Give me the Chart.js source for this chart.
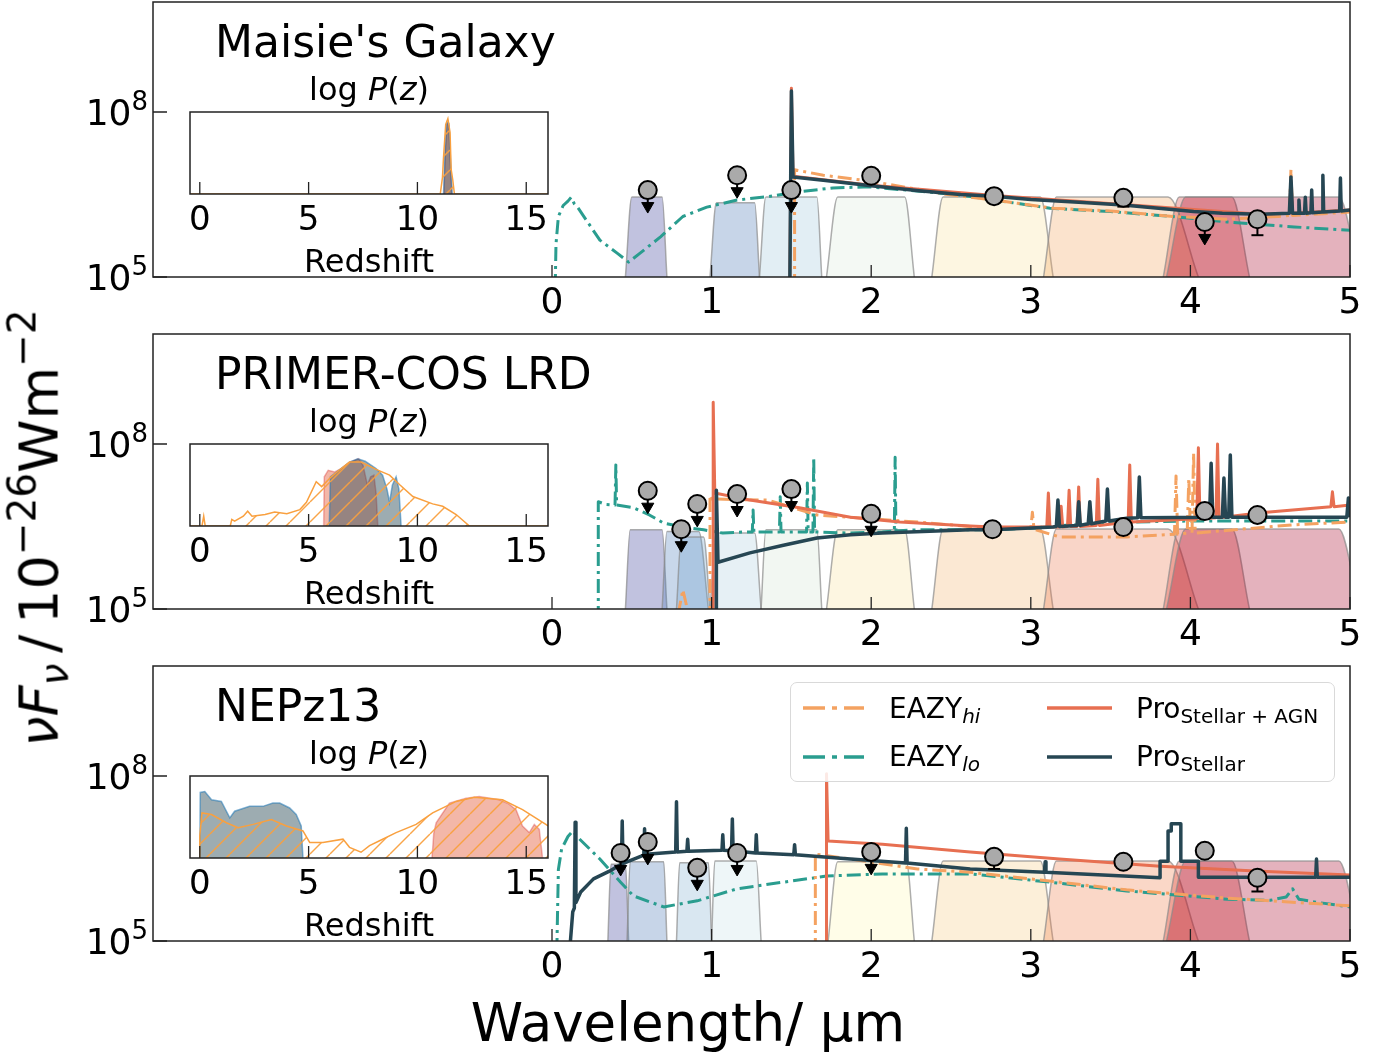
<!DOCTYPE html>
<html>
<head>
<meta charset="utf-8">
<script src="https://cdn.jsdelivr.net/npm/chart.js@4.4.1/dist/chart.umd.min.js"></script>
<style>
  body { margin: 0; background: #fff; }
  #page { position: relative; width: 1390px; height: 1055px; overflow: hidden; font-family: 'DejaVu Sans', sans-serif; color: #000; }
  canvas { position: absolute; }
  .t { position: absolute; white-space: nowrap; line-height: 1; }
  .title { font-size: 44px; left: 215px; }
  .ptitle { font-size: 32px; left: 269px; width: 200px; text-align: center; }
  .ytick { font-size: 36px; left: 0; width: 148px; text-align: right; }
  .ytick span { font-size: 26px; position: relative; top: -15px; }
  .leg { font-size: 28px; }
  .leg span { font-size: 20px; position: relative; top: 5px; }
  #legbox { position: absolute; left: 790px; top: 682px; width: 545px; height: 100px; border: 1.5px solid #d9d9d9; border-radius: 7px; background: rgba(255,255,255,0.85); box-sizing: border-box; }
</style>
</head>
<body>
<div id="page">
  <canvas id="main1" width="1390" height="327" style="left:0;top:0"></canvas>
  <canvas id="main2" width="1390" height="327" style="left:0;top:332px"></canvas>
  <canvas id="main3" width="1390" height="327" style="left:0;top:664px"></canvas>
  <canvas id="inset1" width="400" height="134" style="left:170px;top:110px"></canvas>
  <canvas id="inset2" width="400" height="134" style="left:170px;top:442px"></canvas>
  <canvas id="inset3" width="400" height="134" style="left:170px;top:774px"></canvas>

  <div class="t title" style="top:20px">Maisie's Galaxy</div>
  <div class="t title" style="top:352px">PRIMER-COS LRD</div>
  <div class="t title" style="top:684px">NEPz13</div>

  <div class="t ptitle" style="top:73px">log <i>P</i>(<i>z</i>)</div>
  <div class="t ptitle" style="top:405px">log <i>P</i>(<i>z</i>)</div>
  <div class="t ptitle" style="top:737px">log <i>P</i>(<i>z</i>)</div>
  <div class="t ptitle" style="top:245px">Redshift</div>
  <div class="t ptitle" style="top:577px">Redshift</div>
  <div class="t ptitle" style="top:909px">Redshift</div>

  <div class="t ytick" style="top:95px">10<span>8</span></div>
  <div class="t ytick" style="top:260px">10<span>5</span></div>
  <div class="t ytick" style="top:427px">10<span>8</span></div>
  <div class="t ytick" style="top:592px">10<span>5</span></div>
  <div class="t ytick" style="top:759px">10<span>8</span></div>
  <div class="t ytick" style="top:924px">10<span>5</span></div>

  <div class="t" style="font-size:54px;line-height:54px;left:42px;top:528px;transform:translate(-50%,-50%) rotate(-90deg);">
    <i>νF</i><i style="font-size:39px;position:relative;top:10px">ν</i>&thinsp;/&thinsp;10<span style="font-size:39px;position:relative;top:-22px">−26</span>Wm<span style="font-size:39px;position:relative;top:-22px">−2</span>
  </div>
  <div class="t" style="font-size:53px;left:438px;width:500px;text-align:center;top:996px">Wavelength/ µm</div>

  <div id="legbox"></div>
  <svg style="position:absolute;left:0;top:0" width="1390" height="1055">
    <line x1="803" y1="708" x2="864" y2="708" stroke="#f4a261" stroke-width="3.5" stroke-dasharray="22 7 5 7"/>
    <line x1="803" y1="757" x2="864" y2="757" stroke="#2a9d8f" stroke-width="3.5" stroke-dasharray="22 7 5 7"/>
    <line x1="1047" y1="708" x2="1112" y2="708" stroke="#e76f51" stroke-width="3.5"/>
    <line x1="1047" y1="757" x2="1112" y2="757" stroke="#264653" stroke-width="3.5"/>
  </svg>
  <div class="t leg" style="left:889px;top:695px">EAZY<span><i>hi</i></span></div>
  <div class="t leg" style="left:889px;top:743px">EAZY<span><i>lo</i></span></div>
  <div class="t leg" style="left:1136px;top:695px">Pro<span>Stellar + AGN</span></div>
  <div class="t leg" style="left:1136px;top:743px">Pro<span>Stellar</span></div>
</div>

<script>
// ---- axes ----
var XTICKS = [0, 1, 2, 3, 4, 5];
var YTICKS = [1e5, 1e8];
var ZTICKS = [0, 5, 10, 15];

// ---- spectra: [wavelength (um), log10 flux] ----
var EAZYLO_1 = [[0.02,4.8],[0.025,5.6],[0.04,6.1],[0.07,6.3],[0.1,6.38],[0.12,6.45],[0.14,6.33],[0.16,6.27],[0.3,5.67],[0.41,5.43],[0.48,5.27],[0.55,5.43],[0.68,5.73],[0.82,6.1],[0.97,6.27],[1.16,6.4],[1.35,6.46],[1.55,6.55],[1.76,6.62],[1.99,6.64],[2.56,6.49],[2.77,6.4],[3.12,6.25],[3.5,6.19],[3.89,6.1],[4.23,6.0],[4.65,5.91],[5.0,5.85]];
var EAZYHI_1 = [[1.52,4.8],[1.52,6.95],[1.7,6.85],[2.0,6.74],[2.48,6.5],[2.77,6.4],[3.14,6.25],[3.5,6.2],[3.9,6.1],[4.23,6.05],[4.55,6.1],[4.62,6.12],[4.63,6.95],[4.64,6.12],[5.0,6.18]];
var PROAGN_1 = [[1.49,4.8],[1.5,8.43],[1.51,6.83],[2.0,6.67],[2.77,6.48],[3.58,6.32],[4.44,6.14],[4.62,6.16],[4.63,6.75],[4.64,6.16],[5.0,6.22]];
var PROSTEL_1 = [[1.49,4.8],[1.5,8.38],[1.51,6.82],[1.7,6.76],[2.0,6.66],[2.3,6.57],[2.56,6.5],[2.77,6.47],[3.0,6.41],[3.3,6.36],[3.58,6.31],[3.8,6.25],[4.02,6.19],[4.2,6.16],[4.44,6.14],[4.62,6.16],[4.63,6.82],[4.64,6.16],[4.675,6.16],[4.68,6.4],[4.685,6.16],[4.715,6.16],[4.72,6.45],[4.725,6.16],[4.755,6.17],[4.76,6.58],[4.765,6.17],[4.825,6.18],[4.83,6.85],[4.835,6.18],[4.935,6.2],[4.94,6.8],[4.945,6.2],[5.0,6.22]];

var EAZYLO_2 = [[0.29,4.8],[0.29,6.95],[0.34,6.9],[0.395,6.89],[0.4,7.62],[0.405,6.89],[0.51,6.84],[0.61,6.71],[0.7,6.56],[0.82,6.49],[0.95,6.44],[1.07,6.38],[1.2,6.4],[1.255,6.4],[1.26,6.8],[1.265,6.4],[1.425,6.4],[1.43,7.04],[1.435,6.4],[1.595,6.4],[1.6,7.29],[1.605,6.4],[1.635,6.4],[1.64,7.76],[1.645,6.4],[1.87,6.38],[2.07,6.4],[2.145,6.42],[2.15,7.76],[2.155,6.42],[2.29,6.44],[2.62,6.44],[2.76,6.44],[3.0,6.47],[3.2,6.52],[3.6,6.58],[4.0,6.6],[5.0,6.6]];
var EAZYHI_2_LOW = [[0.79,4.9],[0.8,5.05],[0.82,5.35],[0.84,5.1],[0.85,4.9]];
var EAZYHI_2 = [[0.99,4.8],[0.99,7.07],[1.0,7.0],[1.35,6.98],[1.66,6.71],[2.0,6.64],[2.29,6.58],[2.62,6.5],[2.76,6.47],[3.0,6.47],[3.01,6.76],[3.02,6.45],[3.18,6.31],[3.6,6.31],[3.9,6.36],[3.91,7.42],[3.92,6.36],[3.98,6.38],[3.99,7.38],[4.0,6.38],[4.01,6.38],[4.02,7.84],[4.03,6.38],[4.64,6.53],[5.0,6.58]];
var PROAGN_2 = [[1.01,4.8],[1.01,8.76],[1.02,7.11],[1.24,6.98],[1.55,6.84],[1.87,6.67],[2.18,6.58],[2.62,6.51],[2.76,6.49],[3.1,6.49],[3.11,7.11],[3.12,6.49],[3.18,6.49],[3.19,6.87],[3.2,6.49],[3.23,6.5],[3.24,7.16],[3.25,6.5],[3.29,6.5],[3.3,7.22],[3.31,6.5],[3.41,6.52],[3.42,7.36],[3.43,6.52],[3.61,6.58],[3.62,7.62],[3.63,6.58],[4.04,6.64],[4.05,7.93],[4.06,6.64],[4.16,6.66],[4.17,8.0],[4.18,6.66],[4.44,6.75],[4.88,6.86],[4.89,7.13],[4.9,6.86],[5.0,6.89]];
var PROSTEL_2 = [[1.03,4.8],[1.03,7.16],[1.04,5.85],[1.24,6.02],[1.45,6.16],[1.66,6.29],[1.87,6.35],[2.07,6.38],[2.62,6.44],[2.76,6.44],[3.14,6.49],[3.16,6.5],[3.17,6.98],[3.18,6.5],[3.29,6.52],[3.3,6.95],[3.31,6.52],[3.36,6.55],[3.37,6.95],[3.38,6.55],[3.47,6.6],[3.48,7.18],[3.49,6.6],[3.6,6.65],[3.67,6.66],[3.68,7.4],[3.69,6.66],[4.12,6.67],[4.13,7.65],[4.14,6.67],[4.2,6.67],[4.21,7.38],[4.22,6.67],[4.24,6.67],[4.25,7.8],[4.26,6.67],[4.98,6.67],[4.99,7.02],[5.0,6.67]];

var EAZYLO_3 = [[0.03,4.8],[0.04,6.3],[0.06,6.67],[0.1,6.9],[0.13,7.0],[0.16,6.89],[0.3,6.49],[0.43,6.07],[0.51,5.82],[0.7,5.62],[0.91,5.73],[1.16,5.95],[1.45,6.07],[1.72,6.18],[2.07,6.22],[2.62,6.22],[3.12,6.07],[3.6,5.91],[4.23,5.76],[4.5,5.74],[4.6,5.8],[4.64,5.95],[4.68,5.76],[4.8,5.7],[5.0,5.62]];
var EAZYHI_3 = [[1.65,4.8],[1.65,6.58],[1.87,6.49],[2.29,6.31],[2.62,6.25],[3.12,6.09],[3.6,5.93],[4.23,5.78],[5.0,5.64]];
var PROAGN_3 = [[1.72,4.8],[1.72,8.04],[1.73,6.82],[2.07,6.76],[2.62,6.62],[3.18,6.49],[3.81,6.36],[4.44,6.27],[5.0,6.2]];
var PROSTEL_3 = [[0.11,4.8],[0.13,5.53],[0.14,5.6],[0.145,7.16],[0.15,5.7],[0.18,5.89],[0.26,6.13],[0.36,6.27],[0.435,6.4],[0.44,7.18],[0.445,6.41],[0.47,6.44],[0.575,6.56],[0.58,7.04],[0.585,6.56],[0.61,6.58],[0.775,6.62],[0.78,7.53],[0.785,6.62],[0.845,6.63],[0.85,6.85],[0.855,6.63],[1.065,6.65],[1.07,6.93],[1.075,6.65],[1.125,6.64],[1.13,7.22],[1.135,6.64],[1.275,6.6],[1.28,6.93],[1.285,6.6],[1.515,6.57],[1.52,6.75],[1.525,6.57],[1.87,6.49],[2.215,6.42],[2.22,7.05],[2.225,6.42],[2.62,6.31],[3.085,6.25],[3.09,6.44],[3.095,6.25],[3.81,6.15],[3.81,6.45],[3.86,6.45],[3.86,7.0],[3.88,7.0],[3.88,7.13],[3.94,7.13],[3.94,6.45],[4.05,6.45],[4.05,6.16],[4.785,6.16],[4.79,6.49],[4.795,6.16],[5.0,6.16]];

// ---- photometry ----
var PHOT_X_1 = [0.60, 1.16, 1.50, 2.0, 2.77, 3.58, 4.09, 4.42];
var PHOT_Y_1 = [6.58, 6.85, 6.58, 6.84, 6.47, 6.44, 6.0, 6.05];
var PHOT_UL_1 = [1, 1, 1, 0, 0, 0, 1, 0];
var PHOT_ERR_1 = [0, 0, 0, 0, 0, 0.16, 0, 0.29];

var PHOT_X_2 = [0.60, 0.81, 0.91, 1.16, 1.50, 2.0, 2.76, 3.58, 4.09, 4.42];
var PHOT_Y_2 = [7.15, 6.45, 6.91, 7.09, 7.18, 6.73, 6.45, 6.49, 6.78, 6.71];
var PHOT_UL_2 = [1, 1, 1, 1, 1, 1, 0, 0, 0, 0];
var PHOT_ERR_2 = [0, 0, 0, 0, 0, 0, 0, 0, 0, 0];

var PHOT_X_3 = [0.43, 0.60, 0.91, 1.16, 2.0, 2.77, 3.58, 4.09, 4.42];
var PHOT_Y_3 = [6.6, 6.8, 6.33, 6.6, 6.62, 6.53, 6.44, 6.64, 6.15];
var PHOT_UL_3 = [1, 1, 1, 1, 1, 0, 0, 0, 0];
var PHOT_ERR_3 = [0, 0, 0, 0, 0, 0.22, 0, 0, 0.25];

// ---- filter curves: [foot lo, top lo, top hi, foot hi] in um, relative peak ----
var FILT_1 = [[0.46,0.50,0.69,0.72],[0.99,1.03,1.27,1.30],[1.30,1.34,1.66,1.69],[1.72,1.79,2.21,2.27],[2.38,2.45,3.06,3.14],[3.08,3.16,3.86,4.05],[3.83,3.93,4.26,4.37],[3.85,3.97,4.93,5.06]];
var FILT_TOP_1 = [1.0, 0.93, 1.0, 1.0, 1.0, 1.0, 1.0, 1.0];
var FILT_COL_1 = ['#313695','#4575b4','#a0c6db','#daeada','#f8e19b','#f2a258','#d73027','#a50026'];

var FILT_2 = [[0.46,0.49,0.69,0.72],[0.69,0.72,0.92,0.98],[0.78,0.81,0.95,0.99],[0.99,1.03,1.27,1.31],[1.31,1.34,1.66,1.69],[1.72,1.79,2.21,2.27],[2.38,2.45,3.06,3.14],[3.08,3.16,3.86,4.05],[3.83,3.93,4.26,4.37],[3.85,3.97,4.93,5.06]];
var FILT_TOP_2 = [0.99, 0.97, 0.9, 0.95, 0.99, 0.99, 1.0, 1.0, 1.0, 1.0];
var FILT_COL_2 = ['#313695','#487ab9','#6a9fcb','#accdde','#d4e4d4','#f8e29a','#f2b26c','#eb7348','#d73027','#a50026'];

var FILT_3 = [[0.35,0.37,0.46,0.48],[0.47,0.49,0.70,0.72],[0.78,0.80,0.98,1.0],[1.0,1.02,1.28,1.31],[1.73,1.79,2.22,2.27],[2.38,2.45,3.06,3.14],[3.08,3.16,3.86,4.05],[3.83,3.93,4.26,4.37],[3.85,3.97,4.93,5.06]];
var FILT_TOP_3 = [0.96, 0.99, 0.98, 1.0, 0.99, 1.0, 1.0, 1.0, 1.0];
var FILT_COL_3 = ['#313695','#4575b4','#80afd0','#c6e1e8','#fff8b2','#f5ca80','#ee7a44','#d73027','#a50026'];

// ---- redshift PDFs: [z, relative log P] ----
var PZ_HI_1 = [[-0.45,0],[11.05,0],[11.15,0.2],[11.2,0.45],[11.3,0.85],[11.4,0.92],[11.5,0.75],[11.55,0.3],[11.62,0.18],[11.7,0],[16,0]];
var PZ_AGN_1 = [[11.22,0],[11.28,0.5],[11.36,0.86],[11.44,0.84],[11.52,0.3],[11.58,0]];
var PZ_STEL_1 = [[11.2,0],[11.27,0.55],[11.35,0.88],[11.45,0.86],[11.53,0.35],[11.6,0]];

var PZ_HI_2 = [[-0.45,0],[0.1,0],[0.18,0.12],[0.25,0],[1.4,0],[1.47,0.08],[1.6,0.06],[2.0,0.12],[2.2,0.18],[2.4,0.12],[3.0,0.14],[3.44,0.17],[4.0,0.15],[4.6,0.2],[4.9,0.29],[5.35,0.54],[5.6,0.48],[6.04,0.6],[6.4,0.68],[6.88,0.78],[7.41,0.78],[8.1,0.69],[8.72,0.62],[9.2,0.5],[9.79,0.36],[10.7,0.27],[11.16,0.24],[11.78,0.14],[12.39,0],[16,0]];
var PZ_AGN_2 = [[5.69,0],[5.72,0.6],[5.9,0.68],[6.2,0.66],[6.5,0.7],[6.9,0.78],[7.3,0.82],[7.5,0.74],[7.7,0.5],[7.85,0.6],[8.0,0.62],[8.1,0.4],[8.18,0]];
var PZ_STEL_2 = [[5.95,0],[6.0,0.6],[6.3,0.66],[6.88,0.78],[7.26,0.82],[7.6,0.79],[8.1,0.7],[8.4,0.62],[8.6,0.45],[8.72,0.29],[8.85,0.5],[9.02,0.6],[9.15,0.45],[9.25,0]];

var PZ_HI_3 = [[0,0],[0,0.27],[0.1,0.55],[0.54,0.53],[1.22,0.43],[1.76,0.37],[2.45,0.41],[3.29,0.47],[3.98,0.39],[4.74,0.33],[5.05,0.19],[5.66,0.19],[6.58,0.23],[6.88,0.13],[7.41,0.07],[7.8,0.15],[8.26,0.21],[9.02,0.31],[9.94,0.41],[10.7,0.55],[11.78,0.69],[12.62,0.74],[13.91,0.71],[14.83,0.59],[15.9,0.41],[16,0.39]];
var PZ_AGN_3 = [[10.67,0],[10.75,0.3],[10.86,0.43],[11.47,0.67],[12.23,0.73],[12.84,0.75],[13.76,0.71],[14.2,0.66],[14.53,0.59],[14.83,0.39],[15.14,0.31],[15.37,0.41],[15.6,0.35],[15.75,0]];
var PZ_STEL_3 = [[0,0],[0.02,0.8],[0.23,0.81],[0.54,0.71],[0.99,0.69],[1.38,0.49],[1.6,0.57],[2.29,0.63],[2.9,0.63],[3.36,0.67],[3.67,0.67],[4.13,0.61],[4.43,0.53],[4.66,0.39],[4.74,0]];

var COL_HI = '#f4a261', COL_LO = '#2a9d8f', COL_AGN = '#e76f51', COL_STEL = '#264653';
var DASHDOT = [14, 5, 3, 5];
var ARROW_DEX = 0.29;

var panels = [
  { lo: [EAZYLO_1], hi: [EAZYHI_1], agn: PROAGN_1, stel: PROSTEL_1,
    px: PHOT_X_1, py: PHOT_Y_1, ul: PHOT_UL_1, err: PHOT_ERR_1,
    filt: FILT_1, ftop: FILT_TOP_1, fcol: FILT_COL_1,
    pzHi: PZ_HI_1, pzAgn: PZ_AGN_1, pzStel: PZ_STEL_1 },
  { lo: [EAZYLO_2], hi: [EAZYHI_2_LOW, EAZYHI_2], agn: PROAGN_2, stel: PROSTEL_2,
    px: PHOT_X_2, py: PHOT_Y_2, ul: PHOT_UL_2, err: PHOT_ERR_2,
    filt: FILT_2, ftop: FILT_TOP_2, fcol: FILT_COL_2,
    pzHi: PZ_HI_2, pzAgn: PZ_AGN_2, pzStel: PZ_STEL_2 },
  { lo: [EAZYLO_3], hi: [EAZYHI_3], agn: PROAGN_3, stel: PROSTEL_3,
    px: PHOT_X_3, py: PHOT_Y_3, ul: PHOT_UL_3, err: PHOT_ERR_3,
    filt: FILT_3, ftop: FILT_TOP_3, fcol: FILT_COL_3,
    pzHi: PZ_HI_3, pzAgn: PZ_AGN_3, pzStel: PZ_STEL_3 }
];

Chart.defaults.font.family = "'DejaVu Sans', sans-serif";
Chart.defaults.color = '#000';
Chart.defaults.animation = false;

function xy(arr) {
  return arr.map(function(p) { return { x: p[0], y: Math.pow(10, p[1]) }; });
}
function zp(arr) {
  return arr.map(function(p) { return { x: p[0], y: p[1] }; });
}
function hexA(hex, a) {
  var n = parseInt(hex.slice(1), 16);
  return 'rgba(' + (n >> 16) + ',' + ((n >> 8) & 255) + ',' + (n & 255) + ',' + a + ')';
}

function makeFrame(xticks, yticks, len) {
  return {
    id: 'frame',
    afterDatasetsDraw: function(chart) {
      var ctx = chart.ctx, a = chart.chartArea;
      ctx.save();
      ctx.strokeStyle = '#222';
      ctx.lineWidth = 1.5;
      ctx.strokeRect(a.left, a.top, a.right - a.left, a.bottom - a.top);
      ctx.lineWidth = 1.3;
      ctx.beginPath();
      xticks.forEach(function(v) {
        var px = chart.scales.x.getPixelForValue(v);
        ctx.moveTo(px, a.bottom);
        ctx.lineTo(px, a.bottom - len);
      });
      yticks.forEach(function(v) {
        var py = chart.scales.y.getPixelForValue(v);
        ctx.moveTo(a.left, py);
        ctx.lineTo(a.left + len + 2, py);
      });
      ctx.stroke();
      ctx.restore();
    }
  };
}

function lineDs(seg, color, width, dash, order) {
  return {
    data: xy(seg), yAxisID: 'y', borderColor: color, borderWidth: width,
    borderDash: dash, borderJoinStyle: 'round', pointRadius: 0,
    fill: false, tension: 0, order: order
  };
}

function mainDatasets(p) {
  var ds = [];
  p.filt.forEach(function(e, i) {
    var t = p.ftop[i];
    ds.push({
      data: [{ x: e[0], y: 0 }, { x: e[1], y: t }, { x: e[2], y: t }, { x: e[3], y: 0 }],
      yAxisID: 'f', fill: 'origin', backgroundColor: hexA(p.fcol[i], 0.3),
      borderColor: 'rgba(140,140,140,0.7)', borderWidth: 1.5,
      cubicInterpolationMode: 'monotone', pointRadius: 0, order: 40 - i
    });
  });
  p.lo.forEach(function(s) { ds.push(lineDs(s, COL_LO, 3, DASHDOT, 8)); });
  p.hi.forEach(function(s) { ds.push(lineDs(s, COL_HI, 3, DASHDOT, 7)); });
  ds.push(lineDs(p.agn, COL_AGN, 3, [], 6));
  ds.push(lineDs(p.stel, COL_STEL, 3.5, [], 5));

  var circles = [], stems = [], heads = [], caps = [];
  p.px.forEach(function(x, i) {
    var v = p.py[i];
    circles.push({ x: x, y: Math.pow(10, v) });
    if (p.ul[i]) {
      var lo = Math.pow(10, v - ARROW_DEX);
      stems.push({ x: x, y: Math.pow(10, v) }, { x: x, y: lo }, { x: x, y: null });
      heads.push({ x: x, y: lo });
    }
    if (p.err[i] > 0) {
      var e = Math.pow(10, v - p.err[i]);
      stems.push({ x: x, y: Math.pow(10, v) }, { x: x, y: e }, { x: x, y: null });
      caps.push({ x: x, y: e });
    }
  });
  ds.push({ data: stems, yAxisID: 'y', borderColor: '#000', borderWidth: 2, pointRadius: 0, spanGaps: false, fill: false, order: 3 });
  ds.push({ data: caps, yAxisID: 'y', showLine: false, pointStyle: 'line', pointRadius: 6,
    pointBorderColor: '#000', pointBorderWidth: 2, order: 3 });
  ds.push({ data: heads, yAxisID: 'y', showLine: false, pointStyle: 'triangle', pointRotation: 180,
    pointRadius: 7, pointBackgroundColor: '#000', pointBorderColor: '#000', pointBorderWidth: 1, order: 2 });
  ds.push({ data: circles, yAxisID: 'y', showLine: false, pointStyle: 'circle', pointRadius: 9,
    pointBackgroundColor: '#aaaaaa', pointBorderColor: '#000', pointBorderWidth: 2, order: 1 });
  return ds;
}

function hatchPattern() {
  var c = document.createElement('canvas');
  c.width = 20; c.height = 20;
  var g = c.getContext('2d');
  g.strokeStyle = 'rgba(249,160,63,0.95)';
  g.lineWidth = 1.4;
  [-20, 0, 20].forEach(function(o) {
    g.beginPath(); g.moveTo(o, 20); g.lineTo(o + 20, 0); g.stroke();
  });
  return g.createPattern(c, 'repeat');
}
var HATCH = hatchPattern();

panels.forEach(function(p, k) {
  new Chart(document.getElementById('main' + (k + 1)), {
    type: 'line',
    data: { datasets: mainDatasets(p) },
    options: {
      responsive: false,
      devicePixelRatio: 1,
      layout: { autoPadding: false, padding: { left: 153, right: 40, top: 2, bottom: 0 } },
      plugins: { legend: { display: false }, tooltip: { enabled: false } },
      scales: {
        x: {
          type: 'linear', min: -2.5, max: 5,
          afterBuildTicks: function(s) { s.ticks = XTICKS.map(function(v) { return { value: v }; }); },
          afterFit: function(s) { s.height = 50; },
          ticks: { font: { size: 36 }, color: '#000', padding: 5, maxRotation: 0, autoSkip: false,
            callback: function(v) { return String(v); } },
          grid: { display: false, drawTicks: false },
          border: { display: false }
        },
        y: { type: 'logarithmic', min: 1e5, max: 1e10, display: false },
        f: { type: 'linear', min: 0, max: 3.44, display: false }
      }
    },
    plugins: [makeFrame(XTICKS, YTICKS, 12)]
  });

  new Chart(document.getElementById('inset' + (k + 1)), {
    type: 'line',
    data: {
      datasets: [
        { data: zp(p.pzAgn), fill: 'origin', backgroundColor: 'rgba(231,111,81,0.5)',
          borderColor: 'rgba(214,39,40,0.35)', borderWidth: 1.5, pointRadius: 0, order: 3 },
        { data: zp(p.pzStel), fill: 'origin', backgroundColor: 'rgba(38,70,83,0.45)',
          borderColor: 'rgba(31,119,180,0.55)', borderWidth: 1.5, pointRadius: 0, order: 2 },
        { data: zp(p.pzHi), fill: 'origin', backgroundColor: HATCH,
          borderColor: '#f9a03f', borderWidth: 1.5, pointRadius: 0, order: 1 }
      ]
    },
    options: {
      responsive: false,
      devicePixelRatio: 1,
      layout: { autoPadding: false, padding: { left: 20, right: 22, top: 2, bottom: 0 } },
      plugins: { legend: { display: false }, tooltip: { enabled: false } },
      scales: {
        x: {
          type: 'linear', min: -0.45, max: 16,
          afterBuildTicks: function(s) { s.ticks = ZTICKS.map(function(v) { return { value: v }; }); },
          afterFit: function(s) { s.height = 50; },
          ticks: { font: { size: 34 }, color: '#000', padding: 7, maxRotation: 0, autoSkip: false,
            callback: function(v) { return String(v); } },
          grid: { display: false, drawTicks: false },
          border: { display: false }
        },
        y: { type: 'linear', min: 0, max: 1, display: false }
      }
    },
    plugins: [makeFrame(ZTICKS, [], 12)]
  });
});
</script>
</body>
</html>
